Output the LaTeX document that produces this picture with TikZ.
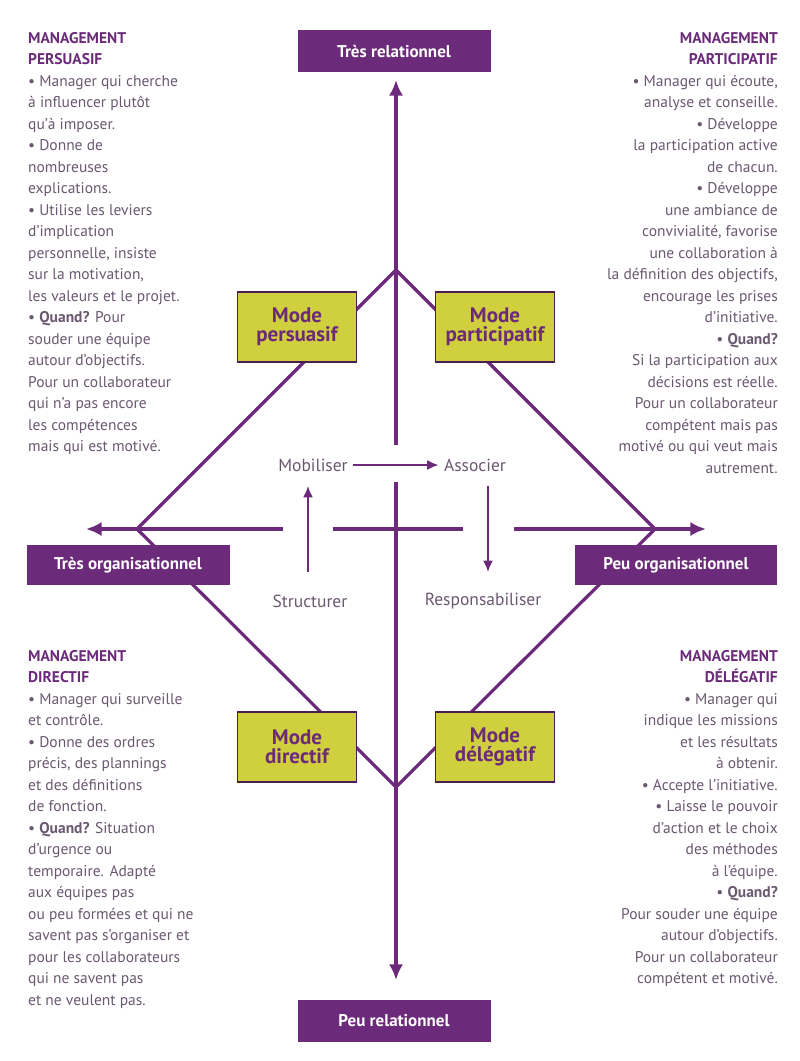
\documentclass[tikz,border=0pt]{standalone}
\usepackage{fontspec}
\setmainfont{PT Sans}
\usetikzlibrary{positioning}
\usetikzlibrary{arrows.meta}
\tikzset{>={Latex[width=5mm,length=5.5mm]}}
\definecolor{violet}{HTML}{6B2A7A}
\definecolor{jaune}{HTML}{D0CF3E}
\definecolor{gristxt}{HTML}{6A5870}
\begin{document}
\begin{tikzpicture}[x=1pt, y=-1pt,
    axe/.style={draw=violet, line width=3.2pt},
    pole/.style={fill=violet, text=white, font=\bfseries\fontsize{17}{19}\selectfont, minimum height=42pt, inner sep=0pt},
    mode/.style={rectangle, draw=violet!70!black, line width=1.2pt, fill=jaune, text=violet, font=\bfseries\fontsize{21}{21}\selectfont, align=center, minimum width=119pt, minimum height=70pt},
    verbe/.style={text=gristxt, font=\fontsize{17.5}{19}\selectfont},
    bloc/.style={text=gristxt, font=\fontsize{15.5}{21.5}\selectfont, inner sep=0pt},
    petit/.style={draw=violet, line width=1.8pt, -{Latex[width=3.5mm,length=4mm]}}]
    \useasboundingbox (0,0) rectangle (800,1061);

    %Diamond corners
    \coordinate (dh) at (396,270);
    \coordinate (dg) at (137,529);
    \coordinate (dd) at (655,529);
    \coordinate (db) at (396,787);
    \draw[axe, line join=miter] (dh) -- (dd) -- (db) -- (dg) -- cycle;

    %Axes
    \coordinate (vh) at (396,80);
    \coordinate (vb) at (396,980);
    \coordinate (hg) at (86,529);
    \coordinate (hd) at (706,529);
    \draw[axe, ->] (396,445) -- (vh);
    \draw[axe, ->] (396,482) -- (vb);
    \draw[axe, ->] (283,529) -- (hg);
    \draw[axe] (333,529) -- (463,529);
    \draw[axe, ->] (514,529) -- (hd);

    %Poles
    \node[pole, minimum width=193pt](haut) at (394,51){Très relationnel};
    \node[pole, minimum width=193pt](bas) at (394,1021){Peu relationnel};
    \node[pole, minimum width=203pt, minimum height=40pt](gauche) at (128,565){Très organisationnel};
    \node[pole, minimum width=202pt, minimum height=40pt](droite) at (676,565){Peu organisationnel};

    %Modes
    \node[mode](persuasif) at (297,327){Mode\\[-2pt]persuasif};
    \node[mode](participatif) at (495,327){Mode\\[-2pt]participatif};
    \node[mode](directif) at (297,747){Mode\\[-2pt]directif};
    \node[mode](delegatif) at (495,747){Mode\\[-2pt]délégatif};

    %Centre
    \node[verbe](mobiliser) at (313,465){Mobiliser};
    \node[verbe](associer) at (475,465){Associer};
    \node[verbe](structurer) at (310,601){Structurer};
    \node[verbe](respons) at (483,601){Responsabiliser};
    \draw[petit] ([xshift=2pt]mobiliser.east) -- ([xshift=-2pt]associer.west);
    \draw[petit] (308,572) -- (308,486);
    \draw[petit] (488,486) -- (488,572);

    %Textes
    \node[bloc, anchor=north west, align=left](tpersuasif) at (28,32){%
      {\color{violet}\bfseries MANAGEMENT}\\{\color{violet}\bfseries PERSUASIF}\\
      • Manager qui cherche\\à influencer plutôt\\qu’à imposer.\\• Donne de\\nombreuses\\explications.\\
      • Utilise les leviers\\d’implication\\personnelle, insiste\\sur la motivation,\\les valeurs et le projet.\\
      • {\bfseries Quand?} Pour\\souder une équipe\\autour d’objectifs.\\Pour un collaborateur\\qui n’a pas encore\\les compétences\\mais qui est motivé.};
    \node[bloc, anchor=north east, align=right](tparticipatif) at (778,32){%
      {\color{violet}\bfseries MANAGEMENT}\\{\color{violet}\bfseries PARTICIPATIF}\\
      • Manager qui écoute,\\analyse et conseille.\\• Développe\\la participation active\\de chacun.\\
      • Développe\\une ambiance de\\convivialité, favorise\\une collaboration à\\la définition des objectifs,\\encourage les prises\\d’initiative.\\
      • {\bfseries Quand?}\\Si la participation aux\\décisions est réelle.\\Pour un collaborateur\\compétent mais pas\\motivé ou qui veut mais\\autrement.};
    \node[bloc, anchor=north west, align=left](tdirectif) at (28,650){%
      {\color{violet}\bfseries MANAGEMENT}\\{\color{violet}\bfseries DIRECTIF}\\
      • Manager qui surveille\\et contrôle.\\• Donne des ordres\\précis, des plannings\\et des définitions\\de fonction.\\
      • {\bfseries Quand?} Situation\\d’urgence ou\\temporaire. Adapté\\aux équipes pas\\ou peu formées et qui ne\\savent pas s’organiser et\\pour les collaborateurs\\qui ne savent pas\\et ne veulent pas.};
    \node[bloc, anchor=north east, align=right](tdelegatif) at (778,650){%
      {\color{violet}\bfseries MANAGEMENT}\\{\color{violet}\bfseries DÉLÉGATIF}\\
      • Manager qui\\indique les missions\\et les résultats\\à obtenir.\\• Accepte l’initiative.\\
      • Laisse le pouvoir\\d’action et le choix\\des méthodes\\à l’équipe.\\
      • {\bfseries Quand?}\\Pour souder une équipe\\autour d’objectifs.\\Pour un collaborateur\\compétent et motivé.};
\end{tikzpicture}
\end{document}
